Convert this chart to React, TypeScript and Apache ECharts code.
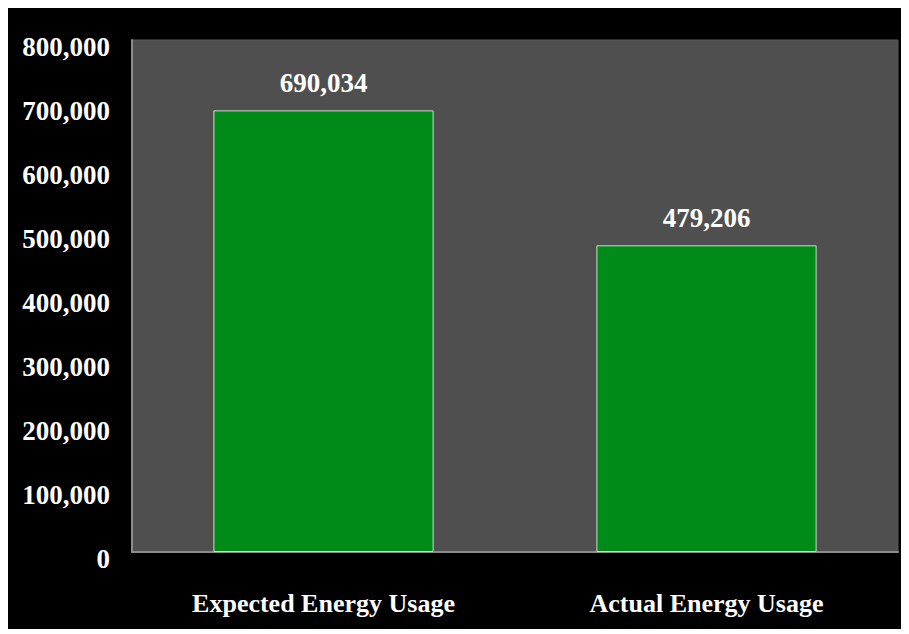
import React, { useEffect, useRef } from "react";
import * as echarts from "echarts";

const categories = ["Expected Energy Usage", "Actual Energy Usage"];
const usageValues = [690034, 479206];
const yTicks = [0, 100000, 200000, 300000, 400000, 500000, 600000, 700000, 800000];

const FONT = '"Liberation Serif", "Times New Roman", serif';
const fmt = (v: number) => v.toLocaleString("en-US");

export default function App() {
  const ref = useRef<HTMLDivElement>(null);

  useEffect(() => {
    if (!ref.current) return;
    const chart = echarts.init(ref.current, undefined, { renderer: "svg" });
    chart.setOption({
      animation: false,
      backgroundColor: "#000000",
      grid: {
        left: 124,
        right: 11,
        top: 32,
        bottom: 77,
        show: true,
        backgroundColor: "#4f4f4f",
        borderColor: "#5a5a5a",
        borderWidth: 1,
      },
      xAxis: {
        type: "category",
        data: categories,
        axisLine: { show: true, lineStyle: { color: "#8c8c8c", width: 2 } },
        axisTick: { show: false },
        axisLabel: {
          color: "#ffffff",
          fontFamily: FONT,
          fontWeight: "bold",
          fontSize: 26,
          margin: 38,
        },
      },
      yAxis: {
        type: "value",
        min: yTicks[0],
        max: yTicks[yTicks.length - 1],
        interval: 100000,
        splitLine: { show: false },
        axisLine: { show: true, lineStyle: { color: "#8c8c8c", width: 2 } },
        axisTick: { show: false },
        axisLabel: {
          color: "#ffffff",
          fontFamily: FONT,
          fontWeight: "bold",
          fontSize: 27,
          margin: 22,
          verticalAlign: "top",
          lineHeight: 14,
          formatter: (v: number) => fmt(v),
        },
      },
      series: [
        {
          type: "bar",
          data: usageValues,
          barWidth: "57.5%",
          itemStyle: {
            color: "#008a17",
            borderColor: "#c9dcc9",
            borderWidth: 1,
          },
          label: {
            show: true,
            position: "top",
            distance: 14,
            color: "#ffffff",
            fontFamily: FONT,
            fontWeight: "bold",
            fontSize: 27,
            formatter: (p: any) => fmt(p.value),
          },
        },
      ],
    });
    return () => chart.dispose();
  }, []);

  return <div ref={ref} style={{ width: 901, height: 621 }} />;
}
